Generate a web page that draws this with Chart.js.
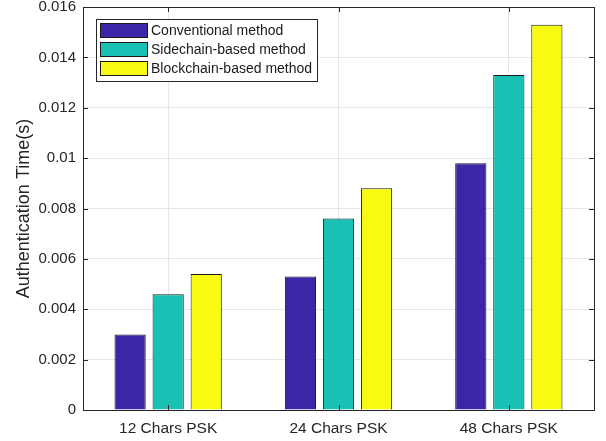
<!DOCTYPE html>
<html>
<head>
<meta charset="utf-8">
<script src="https://cdn.jsdelivr.net/npm/chart.js@4/dist/chart.umd.min.js"></script>
<style>
  html, body { margin: 0; padding: 0; background: #ffffff; }
  #wrap { width: 606px; height: 441px; position: relative; }
</style>
</head>
<body>
<div id="wrap"><canvas id="c" width="606" height="441"></canvas></div>
<script>
// Authentication time per PSK length
const categories = ['12 Chars PSK', '24 Chars PSK', '48 Chars PSK'];
const seriesNames = ['Conventional method', 'Sidechain-based method', 'Blockchain-based method'];
const conventional = [0.0030, 0.0053, 0.0098];
const sidechain = [0.0046, 0.0076, 0.0133];
const blockchain = [0.0054, 0.0088, 0.0153];
const yTickLabels = ['0', '0.002', '0.004', '0.006', '0.008', '0.01', '0.012', '0.014', '0.016'];
const seriesColors = ['#3c26a7', '#19c0b4', '#f8fa12'];

const FONT = '"Liberation Sans", Arial, Helvetica, sans-serif';
const AXIS_COLOR = '#262626';

// Boxed axes with inward ticks plus an in-plot legend
const frame = {
  id: 'frame',
  afterDatasetsDraw(chart) {
    const { ctx, chartArea: a, scales } = chart;
    ctx.save();
    ctx.strokeStyle = AXIS_COLOR;
    ctx.lineWidth = 1;
    // inward ticks on left/right
    const tl = 5;
    scales.y.ticks.forEach(t => {
      const y = Math.round(scales.y.getPixelForValue(t.value)) + 0.5;
      ctx.beginPath();
      ctx.moveTo(a.left, y); ctx.lineTo(a.left + tl, y);
      ctx.moveTo(a.right, y); ctx.lineTo(a.right - tl, y);
      ctx.stroke();
    });
    // inward ticks on bottom/top
    categories.forEach((c, i) => {
      const x = Math.round(scales.x.getPixelForValue(i)) + 0.5;
      ctx.beginPath();
      ctx.moveTo(x, a.bottom); ctx.lineTo(x, a.bottom - tl);
      ctx.moveTo(x, a.top); ctx.lineTo(x, a.top + tl);
      ctx.stroke();
    });
    // box
    ctx.strokeRect(Math.round(a.left) + 0.5, Math.round(a.top) + 0.5,
      Math.round(a.right - a.left), Math.round(a.bottom - a.top));

    // legend
    const lx = a.left + 13, ly = a.top + 12, lw = 221, lh = 62;
    ctx.fillStyle = '#ffffff';
    ctx.fillRect(lx, ly, lw, lh);
    ctx.strokeStyle = AXIS_COLOR;
    ctx.strokeRect(lx + 0.5, ly + 0.5, lw, lh);
    ctx.font = '14px ' + FONT;
    ctx.textBaseline = 'middle';
    ctx.textAlign = 'left';
    chart.data.datasets.forEach((ds, i) => {
      const ry = ly + 4 + i * 19;
      ctx.fillStyle = ds.backgroundColor;
      ctx.fillRect(lx + 4, ry, 48, 15);
      ctx.strokeStyle = '#1a1a1a';
      ctx.strokeRect(lx + 4.5, ry + 0.5, 47, 14);
      ctx.fillStyle = '#1a1a1a';
      ctx.fillText(ds.label, lx + 55, ry + 8);
    });
    ctx.restore();
  }
};

new Chart(document.getElementById('c'), {
  type: 'bar',
  data: {
    labels: categories,
    datasets: [conventional, sidechain, blockchain].map((vals, i) => ({
      label: seriesNames[i],
      data: vals,
      backgroundColor: seriesColors[i],
      borderColor: '#1a1a1a',
      borderWidth: 1,
      categoryPercentage: 0.67,
      barPercentage: 0.82
    }))
  },
  options: {
    responsive: false,
    animation: false,
    devicePixelRatio: 1,
    layout: { padding: { top: 7, right: 12, left: 0, bottom: 0 } },
    plugins: {
      legend: { display: false },
      tooltip: { enabled: false }
    },
    scales: {
      x: {
        grid: { color: '#e6e6e6', offset: false, drawTicks: false },
        border: { display: false },
        ticks: { color: '#262626', font: { family: FONT, size: 15.5 }, padding: 9 },
        afterFit(s) { s.height = 31; s.paddingLeft = 0; s.paddingRight = 0; }
      },
      y: {
        min: 0,
        max: 0.016,
        grid: { color: '#e6e6e6', drawTicks: false },
        border: { display: false },
        ticks: {
          stepSize: 0.002,
          color: '#262626',
          padding: 7,
          font: { family: FONT, size: 15 },
          callback: (v, i) => yTickLabels[i]
        },
        title: {
          display: true,
          text: 'Authentication Time(s)',
          color: '#262626',
          font: { family: FONT, size: 18, weight: 'normal' },
          padding: { top: 13, bottom: 0 }
        },
        afterFit(s) { s.width = 83; s.paddingTop = 0; s.paddingBottom = 0; }
      }
    }
  },
  plugins: [frame]
});
</script>
</body>
</html>
